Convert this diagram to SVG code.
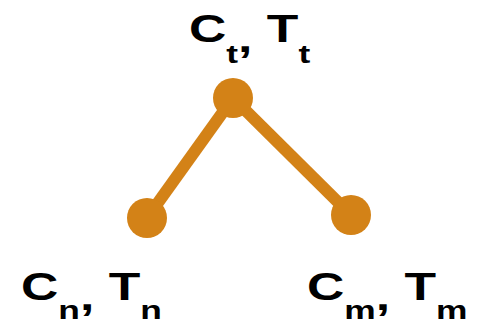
<svg xmlns="http://www.w3.org/2000/svg" width="485" height="329" viewBox="0 0 485 329">
<style>
.edge{stroke:#D38217;stroke-width:12;fill:none}
.node{fill:#D38217}
.lbl{font-family:"Liberation Sans",Arial,sans-serif;font-weight:bold;fill:#000;font-size:38px}
.sub{font-size:26px}
</style>
<rect width="485" height="329" fill="#fff"/>
<g id="connectors">
<line class="edge" x1="233" y1="98" x2="147" y2="218"/>
<line class="edge" x1="233" y1="98" x2="351" y2="215"/>
</g>
<g id="node-top">
<circle class="node" cx="233" cy="98" r="20"/>
<g transform="translate(189,42) scale(1.36,1)"><text class="lbl" x="0" y="0">C<tspan class="sub" dy="21">t</tspan><tspan dy="-11">,</tspan><tspan dy="-10"> T</tspan><tspan class="sub" dy="21">t</tspan></text></g>
</g>
<g id="node-left">
<circle class="node" cx="147" cy="218" r="20"/>
<g transform="translate(21,300) scale(1.36,1)"><text class="lbl" x="0" y="0">C<tspan class="sub" dy="19">n</tspan><tspan dy="-9">,</tspan><tspan dy="-10"> T</tspan><tspan class="sub" dy="19">n</tspan></text></g>
</g>
<g id="node-right">
<circle class="node" cx="351" cy="215" r="20"/>
<g transform="translate(307,300) scale(1.36,1)"><text class="lbl" x="0" y="0">C<tspan class="sub" dy="19">m</tspan><tspan dy="-9">,</tspan><tspan dy="-10"> T</tspan><tspan class="sub" dy="19">m</tspan></text></g>
</g>
</svg>
